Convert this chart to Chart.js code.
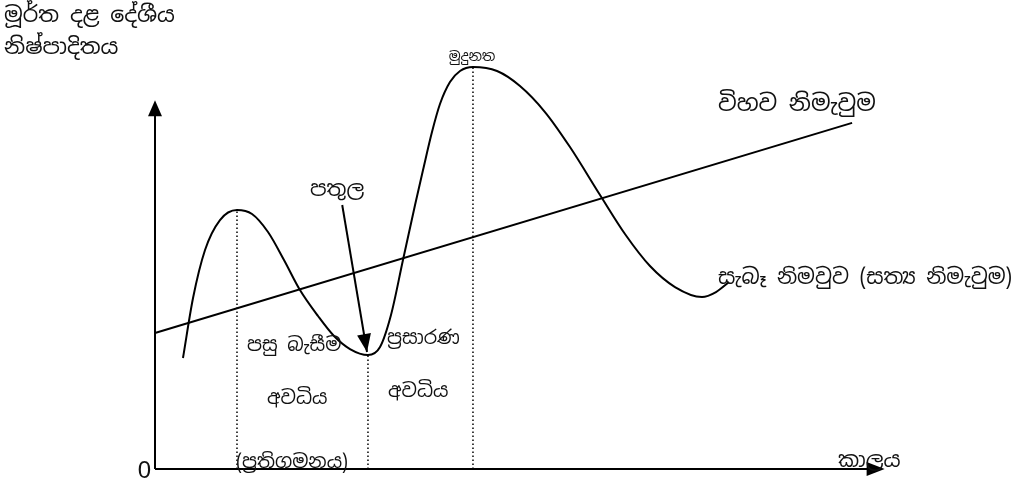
<!DOCTYPE html>
<html>
<head>
<meta charset="utf-8">
<script src="https://cdn.jsdelivr.net/npm/chart.js@4/dist/chart.umd.min.js"></script>
<style>
  html, body { margin: 0; padding: 0; background: #fff; }
  #wrap { width: 1020px; height: 482px; }
</style>
</head>
<body>
<div id="wrap"><canvas id="c" width="1020" height="482"></canvas></div>
<script>
// business cycle sketch - time on x, real GDP on y (arbitrary units)
const cycleX = [3.78, 5.14, 6.76, 8.78, 11.08,
  13.11, 15.27, 17.43, 19.59, 22.03, 24.19, 26.35, 28.78,
  30.41, 31.89, 33.51, 35.14, 36.22, 37.43, 38.51, 39.86, 41.22, 42.97,
  46.22, 49.32, 52.70, 56.08, 60.14, 63.51, 66.89, 70.27, 73.92, 75.81, 77.57];
const cycleY = [30.27, 46.63, 59.72, 67.90, 70.63,
  69.54, 64.63, 57.0, 48.81, 41.72, 36.27, 32.72, 31.09,
  33.27, 42.0, 57.0, 72.0, 81.54, 91.9, 99.54, 105.54, 108.54, 109.63,
  108.54, 104.45, 97.36, 87.81, 74.72, 64.09, 55.36, 49.63, 46.9, 48.27, 51.0];
const trendX = [0, 94.2];
const trendY = [37.1, 94.4];
const phaseX = [11.08, 28.78, 42.97];   // peak, trough, peak
const phaseTop = [70.63, 31.09, 109.63];
const pointerX = [25.3, 28.65];
const pointerY = [72.0, 31.9];
const xAxisEnd = 98.6;
const yAxisEnd = 100.6;

const labels = {
  yTitle: ['මූර්ත දළ දේශීය', 'නිෂ්පාදිතය'],
  peak: 'මුදුනත',
  trough: 'පතුල',
  potential: 'විහව නිමැවුම',
  actual: 'සැබෑ නිමවුව (සත්‍ය නිමැවුම)',
  recession: ['පසු බැසීම', 'අවධිය', '(ප්‍රතිගමනය)'],
  expansion: ['ප්‍රසාරණ', 'අවධිය'],
  zero: '0',
  time: 'කාලය'
};

function pts(xs, ys) {
  return xs.map((x, i) => ({ x: x, y: ys[i] }));
}

const dotted = phaseX.map((x, i) => ({
  data: pts([x, x], [0, phaseTop[i]]),
  borderColor: '#111',
  borderWidth: 1.6,
  borderDash: [1.5, 2.5],
  pointRadius: 0,
  clip: false
}));

function tri(ctx, a, b, c) {
  ctx.beginPath();
  ctx.moveTo(a[0], a[1]);
  ctx.lineTo(b[0], b[1]);
  ctx.lineTo(c[0], c[1]);
  ctx.closePath();
  ctx.fill();
}

const decor = {
  id: 'decor',
  afterDatasetsDraw(chart) {
    const ctx = chart.ctx;
    const xs = chart.scales.x, ys = chart.scales.y;
    const x0 = xs.getPixelForValue(0), y0 = ys.getPixelForValue(0);
    const xEnd = xs.getPixelForValue(xAxisEnd), yEnd = ys.getPixelForValue(yAxisEnd);
    ctx.save();
    ctx.strokeStyle = '#000';
    ctx.fillStyle = '#000';
    ctx.lineWidth = 2;
    // axes
    ctx.beginPath();
    ctx.moveTo(x0, y0);
    ctx.lineTo(x0, yEnd + 10);
    ctx.moveTo(x0, y0);
    ctx.lineTo(xEnd - 10, y0);
    ctx.stroke();
    tri(ctx, [x0, yEnd], [x0 - 7, yEnd + 16], [x0 + 7, yEnd + 16]);
    tri(ctx, [xEnd, y0], [xEnd - 18, y0 - 7], [xEnd - 18, y0 + 7]);
    // pointer arrowhead
    const px1 = xs.getPixelForValue(pointerX[0]), py1 = ys.getPixelForValue(pointerY[0]);
    const px2 = xs.getPixelForValue(pointerX[1]), py2 = ys.getPixelForValue(pointerY[1]);
    const ang = Math.atan2(py2 - py1, px2 - px1);
    const L = 18, W = 7;
    const bx = px2 - L * Math.cos(ang), by = py2 - L * Math.sin(ang);
    tri(ctx, [px2, py2],
      [bx + W * Math.sin(ang), by - W * Math.cos(ang)],
      [bx - W * Math.sin(ang), by + W * Math.cos(ang)]);

    // text
    const sin = '"Noto Sans Sinhala", "Iskoola Pota", "Noto Sans", sans-serif';
    ctx.fillStyle = '#111';
    ctx.textBaseline = 'alphabetic';
    ctx.textAlign = 'left';
    ctx.font = '22px ' + sin;
    ctx.fillText(labels.yTitle[0], 4, 22);
    ctx.fillText(labels.yTitle[1], 4, 54);
    ctx.font = '23px ' + sin;
    ctx.fillText(labels.potential, 718, 111);
    ctx.font = '21px ' + sin;
    ctx.fillText(labels.trough, 310, 196);
    ctx.font = '21px ' + sin;
    ctx.fillText(labels.actual, 718, 284);
    ctx.font = '19px ' + sin;
    ctx.fillText(labels.recession[0], 247, 351);
    ctx.fillText(labels.recession[1], 267, 404);
    ctx.fillText(labels.recession[2], 236, 468);
    ctx.fillText(labels.expansion[0], 387, 344);
    ctx.fillText(labels.expansion[1], 388, 397);
    ctx.font = '21px ' + sin;
    ctx.fillText(labels.time, 838, 467);
    ctx.font = '14px ' + sin;
    ctx.textAlign = 'center';
    ctx.fillText(labels.peak, 472, 61);
    ctx.font = '24px "Liberation Sans", sans-serif';
    ctx.textAlign = 'right';
    ctx.fillText(labels.zero, 151, 478);
    ctx.restore();
  }
};

new Chart(document.getElementById('c'), {
  type: 'line',
  data: {
    datasets: [
      {
        data: pts(cycleX, cycleY),
        borderColor: '#000',
        borderWidth: 2,
        cubicInterpolationMode: 'monotone',
        pointRadius: 0,
        clip: false
      },
      {
        data: pts(trendX, trendY),
        borderColor: '#000',
        borderWidth: 2,
        pointRadius: 0,
        clip: false
      },
      ...dotted,
      {
        data: pts(pointerX, pointerY),
        borderColor: '#000',
        borderWidth: 2,
        pointRadius: 0,
        clip: false
      }
    ]
  },
  options: {
    responsive: false,
    animation: false,
    layout: { padding: { left: 155, right: 125, top: 29, bottom: 13 } },
    scales: {
      x: { type: 'linear', min: 0, max: 100, display: false },
      y: { type: 'linear', min: 0, max: 120, display: false }
    },
    plugins: { legend: { display: false }, tooltip: { enabled: false } }
  },
  plugins: [decor]
});
</script>
</body>
</html>
